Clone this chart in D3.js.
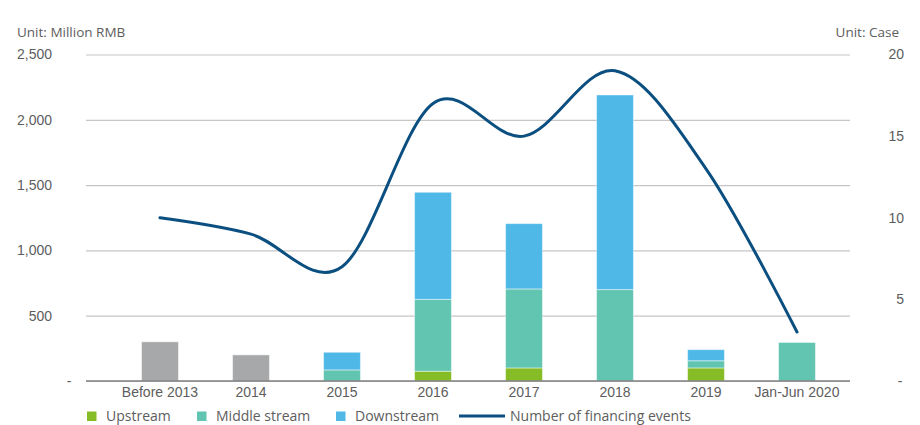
<!DOCTYPE html>
<html>
<head>
<meta charset="utf-8">
<script src="https://cdn.jsdelivr.net/npm/d3@7"></script>
<style>
  html, body { margin: 0; padding: 0; background: #fff; }
  svg { display: block; font-family: "Open Sans", sans-serif; }
</style>
</head>
<body>
<svg id="chart" width="920" height="425"></svg>
<script>
// ---- data ----
const categories = ["Before 2013", "2014", "2015", "2016", "2017", "2018", "2019", "Jan-Jun 2020"];
const totalOnly  = [300, 200, 0, 0, 0, 0, 0, 0];          // grey bars (no breakdown)
const upstream   = [0, 0, 0, 75, 100, 0, 100, 0];
const midstream  = [0, 0, 85, 550, 605, 700, 55, 295];
const downstream = [0, 0, 135, 820, 500, 1490, 85, 0];
const events     = [10, 9, 7, 17, 15, 19, 13, 3];
const leftTicks  = [0, 500, 1000, 1500, 2000, 2500];
const rightTicks = [0, 5, 10, 15, 20];
const legendItems = ["Upstream", "Middle stream", "Downstream", "Number of financing events"];

const colors = {
  total: "#a7a8aa",
  upstream: "#86bc25",
  midstream: "#62c5b1",
  downstream: "#4fb8e7",
  line: "#0b4f80",
  text: "#5d5d5d",
  grid: "#c6c6c6",
  axis: "#7f7f7f"
};

const svg = d3.select("#chart");
const plotLeft = 86, plotRight = 850, plotTop = 54.5, plotBottom = 381;

const x = d3.scaleBand().domain(categories).range([114.5, 842.5]).paddingInner(0.595).paddingOuter(0.2975);
const yL = d3.scaleLinear().domain([0, 2500]).range([plotBottom, plotTop]);
const yR = d3.scaleLinear().domain([0, 20]).range([plotBottom, plotTop]);

// ---- gridlines + left axis labels ----
const gLeft = svg.append("g").attr("transform", `translate(${plotLeft},0)`)
  .call(d3.axisLeft(yL).tickValues(leftTicks).tickSize(-(plotRight - plotLeft)).tickPadding(34)
        .tickFormat(d => d === 0 ? "-" : d3.format(",")(d)));
gLeft.select(".domain").remove();
gLeft.selectAll(".tick line").attr("stroke", colors.grid).attr("stroke-width", 1.2);
gLeft.selectAll(".tick text").attr("fill", colors.text).style("font-size", "14px");
gLeft.selectAll(".tick").filter(d => d === 0).select("text").attr("x", -17).attr("text-anchor", "middle");

// ---- right axis labels ----
const gRight = svg.append("g").attr("transform", `translate(${plotRight},0)`)
  .call(d3.axisRight(yR).tickValues(rightTicks).tickSize(0).tickPadding(54)
        .tickFormat(d => d === 0 ? "-" : d));
gRight.select(".domain").remove();
gRight.selectAll(".tick text").attr("fill", colors.text).style("font-size", "14px").attr("text-anchor", "end");
gRight.selectAll(".tick").filter(d => d === 0).select("text").attr("x", 50).attr("text-anchor", "middle");

// ---- bars ----
const stackKeys = ["total", "upstream", "midstream", "downstream"];
const rows = categories.map((c, i) => ({
  cat: c, total: totalOnly[i], upstream: upstream[i], midstream: midstream[i], downstream: downstream[i]
}));
const stacked = d3.stack().keys(stackKeys)(rows);
svg.append("g").selectAll("g").data(stacked).join("g")
  .attr("fill", d => colors[d.key])
  .selectAll("rect").data(d => d.filter(s => s[1] - s[0] > 0)).join("rect")
  .attr("x", d => x(d.data.cat))
  .attr("width", x.bandwidth())
  .attr("y", d => yL(d[1]))
  .attr("height", d => yL(d[0]) - yL(d[1]))
  .attr("stroke", "rgba(255,255,255,0.45)")
  .attr("stroke-width", 1);

// ---- baseline / category axis ----
const gBottom = svg.append("g").attr("transform", `translate(0,${plotBottom})`)
  .call(d3.axisBottom(x).tickSize(0).tickPadding(6));
gBottom.select(".domain").remove();
gBottom.selectAll(".tick text").attr("fill", colors.text).style("font-size", "14px");
svg.append("line")
  .attr("x1", plotLeft).attr("x2", plotRight)
  .attr("y1", plotBottom).attr("y2", plotBottom)
  .attr("stroke", colors.axis).attr("stroke-width", 1.6);

// ---- line ----
const line = d3.line()
  .x((d, i) => x(categories[i]) + x.bandwidth() / 2)
  .y(d => yR(d))
  .curve(d3.curveCardinal.tension(0));
svg.append("path").datum(events)
  .attr("d", line)
  .attr("fill", "none")
  .attr("stroke", colors.line)
  .attr("stroke-width", 3)
  .attr("stroke-linecap", "round");

// ---- unit titles ----
svg.append("text").attr("x", 17).attr("y", 37).attr("fill", colors.text)
  .style("font-size", "13.5px").text("Unit: Million RMB");
svg.append("text").attr("x", 899).attr("y", 37).attr("fill", colors.text)
  .attr("text-anchor", "end").style("font-size", "13.5px").text("Unit: Case");

// ---- legend ----
const legendX = [87, 197, 336, 459];
const legendColors = [colors.upstream, colors.midstream, colors.downstream, colors.line];
const lg = svg.append("g");
legendItems.forEach((name, i) => {
  if (i < 3) {
    lg.append("rect").attr("x", legendX[i]).attr("y", 411.5).attr("width", 9.5).attr("height", 9.5)
      .attr("fill", legendColors[i]);
    lg.append("text").attr("x", legendX[i] + 19).attr("y", 421).attr("fill", colors.text)
      .style("font-size", "14px").text(name);
  } else {
    lg.append("line").attr("x1", legendX[i]).attr("x2", legendX[i] + 46)
      .attr("y1", 416).attr("y2", 416).attr("stroke", legendColors[i]).attr("stroke-width", 3);
    lg.append("text").attr("x", legendX[i] + 51).attr("y", 421).attr("fill", colors.text)
      .style("font-size", "14px").text(name);
  }
});
</script>
</body>
</html>
